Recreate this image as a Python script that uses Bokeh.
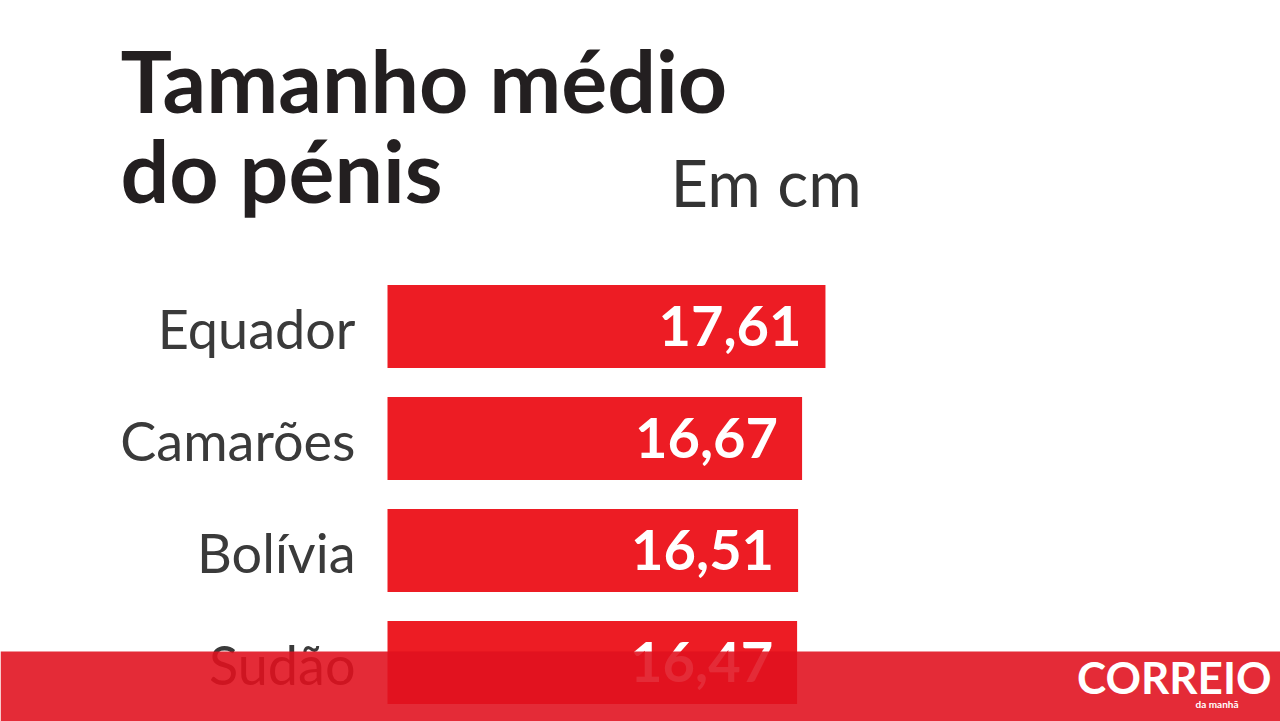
from bokeh.plotting import figure
from bokeh.models import Range1d, ColumnDataSource
from bokeh.core.properties import value
from bokeh.embed import file_html
from bokeh.resources import INLINE

# ---- data ----
countries = ["Equador", "Camarões", "Bolívia", "Sudão"]
sizes = [17.61, 16.67, 16.51, 16.47]
size_labels = ["17,61", "16,67", "16,51", "16,47"]
title_lines = ["Tamanho médio", "do pénis"]
unit_label = "Em cm"

# ---- layout helpers (page pixels -> data units) ----
W, H = 1280, 721
S = 24.87          # pixels per cm
X0 = 387           # page x of value 0
Y0 = 326           # page y of first bar centre
PITCH = 112        # pixels between bars
K = 0.387          # em-box middle above baseline (Lato)


def dx(px):
    return (px - X0) / S


def dy(py):
    return (py - Y0) / PITCH


def by(baseline_px, size):
    # y (data) for a 'middle'-anchored text whose baseline sits at baseline_px
    return dy(baseline_px - K * size)


x_range = Range1d(dx(0), dx(W))
y_range = Range1d(dy(H), dy(0))

p = figure(width=W, height=H, x_range=x_range, y_range=y_range,
           output_backend="svg", toolbar_location=None,
           x_axis_type=None, y_axis_type=None, min_border=0)
p.outline_line_color = None
p.grid.visible = False
p.background_fill_color = "white"
p.border_fill_color = "white"

NUM_SIZE = 56
LAB_SIZE = 54
idx = list(range(len(countries)))
src = ColumnDataSource(dict(
    y=idx, size=sizes, lab=size_labels, country=countries,
    lab_x=[v - 24 / S for v in sizes],
    base_y=[i + (21 - K * NUM_SIZE) / PITCH for i in idx],
    cbase_y=[i + (23 - K * LAB_SIZE) / PITCH for i in idx],
))

# bars
p.hbar(y="y", right="size", left=0, height=83 / PITCH, source=src,
       fill_color="#ed1c24", line_color=None)

# value labels
p.text(x="lab_x", y="base_y", text="lab", source=src,
       text_font=value("Lato"), text_font_style="bold",
       text_font_size=f"{NUM_SIZE}px", text_color="white",
       text_align="right", text_baseline="middle")

# country labels
p.text(x=dx(355), y="cbase_y", text="country", source=src,
       text_font=value("Lato"), text_font_size=f"{LAB_SIZE}px",
       text_color="#3a3a3a", text_align="right",
       text_baseline="middle")

# title
p.text(x=[dx(120), dx(120)], y=[by(112, 86), by(202, 86)], text=title_lines,
       text_font=value("Lato"), text_font_style="bold",
       text_font_size="86px", text_color="#231f20",
       text_align="left", text_baseline="middle")

# unit
p.text(x=[dx(670)], y=[by(207, 65)], text=[unit_label],
       text_font=value("Lato"), text_font_size="65px",
       text_color="#333333", text_align="left",
       text_baseline="middle")

# bottom banner (semi-transparent)
p.quad(left=[x_range.start], right=[x_range.end],
       top=[dy(651)], bottom=[y_range.start],
       fill_color="#e1111e", fill_alpha=0.89, line_color=None)

# logo
p.text(x=[dx(1271)], y=[by(694, 44)], text=["CORREIO"],
       text_font=value("Lato"), text_font_style="bold",
       text_font_size="44px", text_color="white",
       text_align="right", text_baseline="middle")
p.text(x=[dx(1238)], y=[by(707, 10)], text=["da manhã"],
       text_font=value("Lato"), text_font_style="bold",
       text_font_size="10px", text_color="white",
       text_align="right", text_baseline="middle")

open("out.html", "w").write(file_html(p, INLINE))
